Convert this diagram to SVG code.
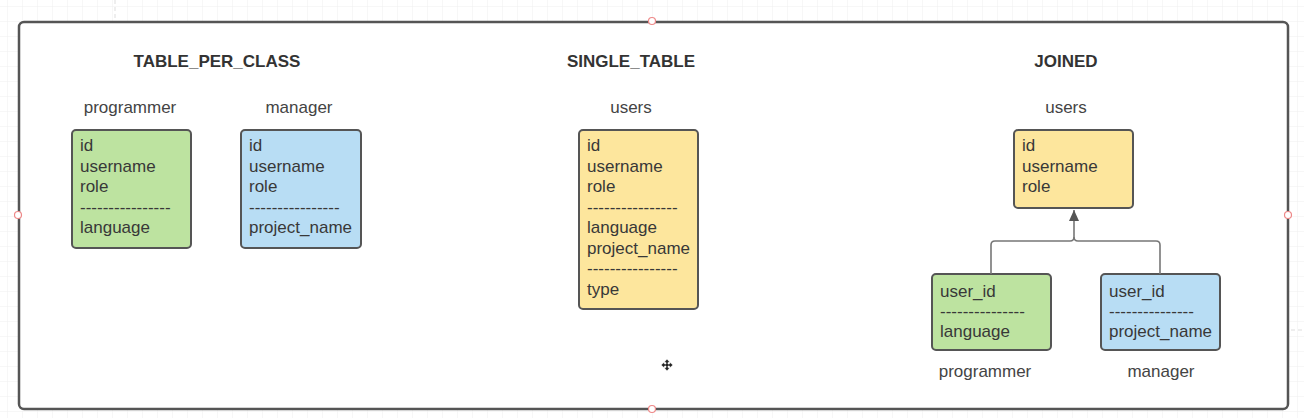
<svg xmlns="http://www.w3.org/2000/svg" width="1304" height="418" viewBox="0 0 1304 418">
<defs>
<pattern id="grid" width="15" height="15" patternUnits="userSpaceOnUse" x="8" y="7">
<path d="M15 0 V15 M0 15 H15" fill="none" stroke="#efefef" stroke-width="1"/>
</pattern>
<marker id="arrow" viewBox="0 0 11 14" refX="11" refY="7" markerWidth="11" markerHeight="14" markerUnits="userSpaceOnUse" orient="auto">
<path d="M0 2 L11 7 L0 12 Z" fill="#555"/>
</marker>
<style>
.box{stroke:#555;stroke-width:2}
.green{fill:#bde3a0}
.blue{fill:#b8ddf4}
.yellow{fill:#fde69d}
.f{font-family:"Liberation Sans",Arial,sans-serif;font-size:17px;fill:#383838}
.lbl{font-family:"Liberation Sans",Arial,sans-serif;font-size:17px;fill:#444;text-anchor:middle}
.title{font-family:"Liberation Sans",Arial,sans-serif;font-size:17px;font-weight:bold;fill:#333;text-anchor:middle}
.conn{fill:none;stroke:#777;stroke-width:1.6}
.handle{fill:#fff;stroke:#e88;stroke-width:1.2}
</style>
</defs>
<rect width="1304" height="418" fill="#fff"/>
<rect width="1304" height="418" fill="url(#grid)"/>
<path d="M115 0 V20" stroke="#ddd" stroke-dasharray="4 3"/>
<path d="M1291 330 H1304" stroke="#ddd" stroke-dasharray="4 3"/>
<rect id="frame" x="19" y="22" width="1269" height="387" rx="5" fill="#fff" stroke="#555" stroke-width="2.5"/>

<text class="title" x="217" y="67">TABLE_PER_CLASS</text>
<text class="title" x="631" y="67">SINGLE_TABLE</text>
<text class="title" x="1066" y="67">JOINED</text>

<g id="tpc-programmer">
<text class="lbl" x="130" y="113">programmer</text>
<rect class="box green" x="72" y="130" width="119" height="118" rx="4"/>
<text class="f" x="80" y="151">id</text>
<text class="f" x="80" y="172">username</text>
<text class="f" x="80" y="192">role</text>
<text class="f" x="80" y="213">----------------</text>
<text class="f" x="80" y="233">language</text>
</g>

<g id="tpc-manager">
<text class="lbl" x="299" y="113">manager</text>
<rect class="box blue" x="241" y="130" width="120" height="118" rx="4"/>
<text class="f" x="249" y="151">id</text>
<text class="f" x="249" y="172">username</text>
<text class="f" x="249" y="192">role</text>
<text class="f" x="249" y="213">----------------</text>
<text class="f" x="249" y="233">project_name</text>
</g>

<g id="st-users">
<text class="lbl" x="631" y="113">users</text>
<rect class="box yellow" x="579" y="130" width="119" height="179" rx="4"/>
<text class="f" x="587" y="151">id</text>
<text class="f" x="587" y="172">username</text>
<text class="f" x="587" y="192">role</text>
<text class="f" x="587" y="213">----------------</text>
<text class="f" x="587" y="233">language</text>
<text class="f" x="587" y="254">project_name</text>
<text class="f" x="587" y="274">----------------</text>
<text class="f" x="587" y="295">type</text>
</g>

<g id="j-users">
<text class="lbl" x="1066" y="113">users</text>
<rect class="box yellow" x="1014" y="130" width="119" height="78" rx="4"/>
<text class="f" x="1022" y="151">id</text>
<text class="f" x="1022" y="172">username</text>
<text class="f" x="1022" y="192">role</text>
</g>

<g id="j-programmer">
<rect class="box green" x="932" y="274" width="119" height="76" rx="4"/>
<text class="f" x="940" y="297">user_id</text>
<text class="f" x="940" y="317">---------------</text>
<text class="f" x="940" y="337">language</text>
<text class="lbl" x="985" y="377">programmer</text>
</g>

<g id="j-manager">
<rect class="box blue" x="1101" y="274" width="119" height="76" rx="4"/>
<text class="f" x="1109" y="297">user_id</text>
<text class="f" x="1109" y="317">---------------</text>
<text class="f" x="1109" y="337">project_name</text>
<text class="lbl" x="1161" y="377">manager</text>
</g>

<g id="connectors">
<path class="conn" d="M991 274 V245 Q991 241 995 241 H1070 Q1074 241 1074 237 V210" marker-end="url(#arrow)"/>
<path class="conn" d="M1160 274 V245 Q1160 241 1156 241 H1078 Q1074 241 1074 237"/>
</g>

<g id="handles">
<circle class="handle" cx="652" cy="21" r="3.5"/>
<circle class="handle" cx="652" cy="409" r="3.5"/>
<circle class="handle" cx="18" cy="215" r="3.5"/>
<circle class="handle" cx="1288" cy="215" r="3.5"/>
</g>

<g id="cursor" fill="#222" stroke="#fff" stroke-width="0.6">
<path d="M667 359 L670 362.5 L668 362.5 L668 364 L669.5 364 L669.5 362 L673 365 L669.5 368 L669.5 366 L668 366 L668 367.5 L670 367.5 L667 371 L664 367.5 L666 367.5 L666 366 L664.5 366 L664.5 368 L661 365 L664.5 362 L664.5 364 L666 364 L666 362.5 L664 362.5 Z"/>
</g>
</svg>
